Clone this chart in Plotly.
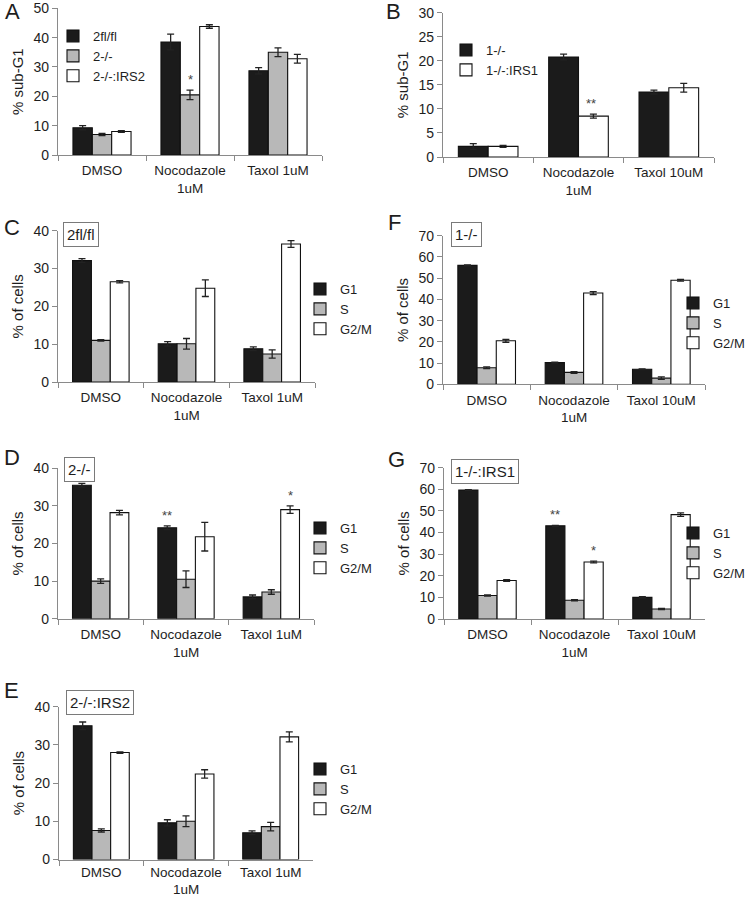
import plotly.graph_objects as go

W, H = 745, 900

# ---------------- data ----------------
cats_t1 = ["DMSO", "Nocodazole<br>1uM", "Taxol 1uM"]
cats_t10 = ["DMSO", "Nocodazole<br>1uM", "Taxol 10uM"]

# Panel A  (% sub-G1)
a_2flfl = [9.3, 38.5, 28.7]
a_2flfl_err = [0.7, 2.7, 1.1]
a_2ko = [7.0, 20.5, 35.0]
a_2ko_err = [0.4, 1.6, 1.5]
a_2ko_irs2 = [8.0, 43.8, 32.8]
a_2ko_irs2_err = [0.3, 0.6, 1.5]

# Panel B  (% sub-G1)
b_1ko = [2.2, 20.8, 13.5]
b_1ko_err = [0.6, 0.6, 0.4]
b_1ko_irs1 = [2.2, 8.5, 14.4]
b_1ko_irs1_err = [0.2, 0.4, 0.9]

# Panel C  2fl/fl (% of cells)
c_g1 = [32.1, 10.1, 8.8]
c_g1_err = [0.5, 0.6, 0.5]
c_s = [11.0, 10.1, 7.4]
c_s_err = [0.2, 1.4, 1.1]
c_g2m = [26.5, 24.8, 36.5]
c_g2m_err = [0.3, 2.2, 0.9]

# Panel F  1-/-
f_g1 = [56.0, 10.2, 7.1]
f_g1_err = [0.2, 0.2, 0.2]
f_s = [7.8, 5.6, 2.9]
f_s_err = [0.4, 0.4, 0.6]
f_g2m = [20.5, 43.0, 49.0]
f_g2m_err = [0.7, 0.7, 0.4]

# Panel D  2-/-
d_g1 = [35.5, 24.2, 5.8]
d_g1_err = [0.5, 0.5, 0.5]
d_s = [10.0, 10.5, 7.1]
d_s_err = [0.6, 2.2, 0.6]
d_g2m = [28.2, 21.8, 29.0]
d_g2m_err = [0.6, 3.8, 1.0]

# Panel G  1-/-:IRS1
g_g1 = [59.7, 43.1, 10.0]
g_g1_err = [0.2, 0.2, 0.3]
g_s = [10.9, 8.7, 4.6]
g_s_err = [0.3, 0.3, 0.3]
g_g2m = [17.8, 26.4, 48.3]
g_g2m_err = [0.4, 0.4, 0.8]

# Panel E  2-/-:IRS2
e_g1 = [35.0, 9.6, 7.0]
e_g1_err = [1.0, 0.8, 0.5]
e_s = [7.6, 10.0, 8.6]
e_s_err = [0.4, 1.4, 1.1]
e_g2m = [28.0, 22.4, 32.1]
e_g2m_err = [0.2, 1.1, 1.3]

phase_names = ["G1", "S", "G2/M"]

# ---------------- style ----------------
BLACK = "#1b1b1b"
GRAY = "#b8b8b8"
WHITE = "#ffffff"
AXIS = "#8a8a8a"
TXT = "#1e1e1e"
FONT = "Liberation Sans, Arial, sans-serif"


def px(x):
    return x / W


def py(y):
    return 1 - y / H


fig = go.Figure()
annotations = []


def add_panel(n, cats, series, xdom, ydom, yrange, dtick, ytitle,
              legend_pos, letter, letter_pos, box=None, stars=(), bargap=0.34,
              legend_font=13, label_standoff=3):
    xa = "x" if n == 1 else f"x{n}"
    ya = "y" if n == 1 else f"y{n}"
    lg = "legend" if n == 1 else f"legend{n}"
    for name, vals, errs, col in series:
        fig.add_trace(go.Bar(
            x=cats, y=vals, name=name,
            marker=dict(color=col, line=dict(color="#111111", width=1.1)),
            error_y=dict(type="data", array=errs, visible=True,
                         color="#222222", thickness=1.3, width=3.5),
            xaxis=xa, yaxis=ya, legend=lg, hoverinfo="skip",
        ))
    key = "" if n == 1 else str(n)
    fig.layout[f"xaxis{key}"] = dict(
        domain=[px(xdom[0]), px(xdom[1])], anchor=ya,
        type="category", showline=True, linecolor=AXIS, linewidth=1.3,
        ticks="outside", tickson="boundaries", ticklen=5, tickcolor=AXIS,
        tickwidth=1.2, showgrid=False, zeroline=False, tickangle=0,
        automargin=False, ticklabelstandoff=label_standoff,
        tickfont=dict(family=FONT, size=13.5, color=TXT), fixedrange=True,
    )
    fig.layout[f"yaxis{key}"] = dict(
        domain=[py(ydom[1]), py(ydom[0])], anchor=xa,
        range=list(yrange), dtick=dtick, showline=True, linecolor=AXIS,
        linewidth=1.3, ticks="outside", ticklen=5, tickcolor=AXIS,
        tickwidth=1.2, showgrid=False, zeroline=False, automargin=False,
        fixedrange=True,
        tickfont=dict(family=FONT, size=14, color=TXT),
        title=dict(text=ytitle, font=dict(family=FONT, size=15, color=TXT), standoff=6),
    )
    fig.layout[lg] = dict(
        x=px(legend_pos[0]), y=py(legend_pos[1]), xanchor="left", yanchor="top",
        bgcolor="rgba(0,0,0,0)", font=dict(family=FONT, size=legend_font, color=TXT),
        itemwidth=30, tracegroupgap=0, itemclick=False, itemdoubleclick=False,
    )
    annotations.append(dict(
        text=letter, x=px(letter_pos[0]), y=py(letter_pos[1]), xref="paper", yref="paper",
        xanchor="left", yanchor="middle", showarrow=False,
        font=dict(family=FONT, size=22, color=TXT)))
    if box:
        annotations.append(dict(
            text=box[0], x=px(box[1]), y=py(box[2]), xref="paper", yref="paper",
            xanchor="left", yanchor="middle", showarrow=False,
            bordercolor="#7a7a7a", borderwidth=1, borderpad=3, bgcolor="white",
            font=dict(family=FONT, size=15, color=TXT)))
    k = len(series)
    w = (1 - bargap) / k
    for ci, si, txt in stars:
        vals, errs = series[si][1], series[si][2]
        annotations.append(dict(
            text=txt, x=ci + (si - (k - 1) / 2) * w, y=vals[ci] + errs[ci],
            xref=xa, yref=ya, xanchor="center", yanchor="bottom", showarrow=False,
            yshift=1, font=dict(family=FONT, size=13, color="#444444")))


def phases(g1, g1e, s, se, g2, g2e):
    return [(phase_names[0], g1, g1e, BLACK), (phase_names[1], s, se, GRAY),
            (phase_names[2], g2, g2e, WHITE)]


# A
add_panel(1, cats_t1,
          [("2fl/fl", a_2flfl, a_2flfl_err, BLACK),
           ("2-/-", a_2ko, a_2ko_err, GRAY),
           ("2-/-:IRS2", a_2ko_irs2, a_2ko_irs2_err, WHITE)],
          (58, 322), (8.3, 155), (0, 50), 10, "% sub-G1",
          (53, 21), "A", (3, 12), stars=[(1, 1, "*")], bargap=0.35)
# B
add_panel(2, cats_t10,
          [("1-/-", b_1ko, b_1ko_err, BLACK),
           ("1-/-:IRS1", b_1ko_irs1, b_1ko_irs1_err, WHITE)],
          (443, 714), (12.7, 157), (0, 30), 5, "% sub-G1",
          (446, 35), "B", (384, 12), stars=[(1, 1, "**")], bargap=0.45)
# C
add_panel(3, cats_t1, phases(c_g1, c_g1_err, c_s, c_s_err, c_g2m, c_g2m_err),
          (58, 315), (230.7, 382), (0, 40), 10, "% of cells",
          (300, 274), "C", (2, 227), box=("2fl/fl", 63, 235))
# F
add_panel(4, cats_t10, phases(f_g1, f_g1_err, f_s, f_s_err, f_g2m, f_g2m_err),
          (443, 705), (235.7, 384.3), (0, 70), 10, "% of cells",
          (673, 288), "F", (386, 222), box=("1-/-", 451, 234))
# D
add_panel(5, cats_t1, phases(d_g1, d_g1_err, d_s, d_s_err, d_g2m, d_g2m_err),
          (58, 314), (468.3, 618.7), (0, 40), 10, "% of cells",
          (300, 513), "D", (2, 457), box=("2-/-", 64, 469),
          stars=[(1, 0, "**"), (2, 2, "*")])
# G
add_panel(6, cats_t10, phases(g_g1, g_g1_err, g_s, g_s_err, g_g2m, g_g2m_err),
          (444, 705), (467.7, 619), (0, 70), 10, "% of cells",
          (673, 518), "G", (386, 460), box=("1-/-:IRS1", 451, 471),
          stars=[(1, 0, "**"), (1, 2, "*")])
# E
add_panel(7, cats_t1, phases(e_g1, e_g1_err, e_s, e_s_err, e_g2m, e_g2m_err),
          (59, 313), (706.7, 859.5), (0, 40), 10, "% of cells",
          (300, 754), "E", (2, 690), box=("2-/-:IRS2", 66, 702), label_standoff=0)

fig.update_layout(
    width=W, height=H, margin=dict(l=0, r=0, t=0, b=0, autoexpand=False),
    paper_bgcolor="white", plot_bgcolor="white",
    barmode="group", bargroupgap=0, bargap=0.34, showlegend=True,
    annotations=annotations, hovermode=False, dragmode=False,
    font=dict(family=FONT, color=TXT),
)

fig.write_html("out.html", config={"displayModeBar": False, "staticPlot": False},
               post_script="document.body.style.margin='0px';")
